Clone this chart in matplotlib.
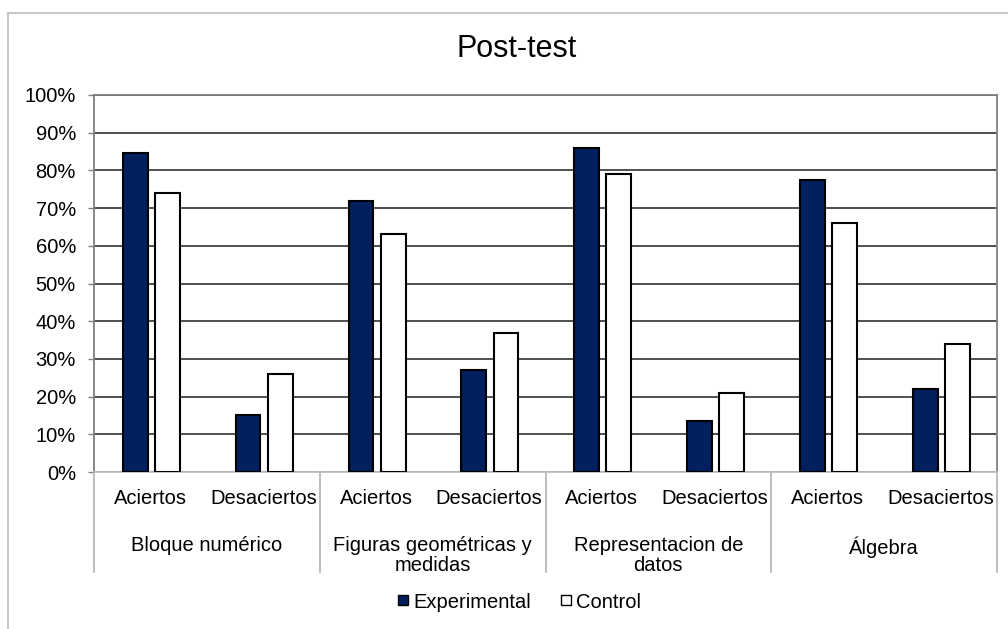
import matplotlib.pyplot as plt
from matplotlib.lines import Line2D
import matplotlib.transforms as mtransforms
import numpy as np

plt.rcParams['font.family'] = ['Liberation Sans', 'DejaVu Sans']

# data
subcats = ['Aciertos', 'Desaciertos'] * 4
groups = ['Bloque numérico', 'Figuras geométricas y\nmedidas',
          'Representacion de\ndatos', 'Álgebra']
experimental = [84.5, 15, 72, 27, 86, 13.5, 77.5, 22]
control = [74, 26, 63, 37, 79, 21, 66, 34]
yticks = np.arange(0, 101, 10)

navy = '#001f5f'

fig = plt.figure(figsize=(10.08, 6.29), dpi=100)
ax = fig.add_axes([94/1008, 1-472/629, (997-94)/1008, (472-95)/629])

x = np.arange(len(subcats))
ax.bar(x - 0.135, experimental, width=0.22, color=navy, edgecolor='black',
       linewidth=1.5, zorder=3, label='Experimental')
ax.bar(x + 0.15, control, width=0.22, color='white', edgecolor='black',
       linewidth=1.5, zorder=3, label='Control')

ax.set_xlim(-0.5, len(subcats) - 0.5)
ax.set_ylim(0, 100)
ax.set_yticks(yticks)
ax.set_yticklabels([f'{v}%' for v in yticks], fontsize=14.5)
ax.tick_params(axis='y', length=4, width=1, color='#808080', pad=9)
ax.set_xticks([])
ax.yaxis.grid(True, color='#202020', linewidth=1.1, zorder=0)
for side in ['left', 'top', 'right']:
    ax.spines[side].set_color('#808080')
    ax.spines[side].set_linewidth(1.3)
ax.spines['bottom'].set_color('#c0c0c0')
ax.spines['bottom'].set_linewidth(1.3)

# category labels (two levels)
trans = mtransforms.blended_transform_factory(ax.transData, ax.transAxes)
for i, lab in enumerate(subcats):
    ax.text(i, -26/377, lab, transform=trans, ha='center', va='center',
            fontsize=14.5)
for g, lab in enumerate(groups):
    ax.text(2*g + 0.5, -64/377, lab, transform=trans, ha='center', va='top',
            fontsize=14.5, linespacing=1.05)
for b in np.arange(-0.5, len(subcats), 2):
    ax.add_line(Line2D([b, b], [0, -100/377], transform=trans, color='#b8b8b8',
                       linewidth=1.3, clip_on=False))

fig.text(517/1008, 1-49/629, 'Post-test', ha='center', va='center', fontsize=22)

# legend
handles = [Line2D([], [], marker='s', linestyle='none', markersize=7,
                  markerfacecolor=navy, markeredgecolor='black', label='Experimental'),
           Line2D([], [], marker='s', linestyle='none', markersize=7,
                  markerfacecolor='white', markeredgecolor='black', label='Control')]
fig.legend(handles=handles, loc='center', bbox_to_anchor=(519/1008, 1-602/629),
           ncol=2, frameon=False, fontsize=14.5, handlelength=0.6,
           handletextpad=0.2, columnspacing=1.4)

# outer chart frame
fig.add_artist(Line2D([8/1008, 8/1008], [0, 1-13/629], transform=fig.transFigure,
                      color='#c8c8c8', linewidth=1.5))
fig.add_artist(Line2D([8/1008, 1], [1-13/629, 1-13/629], transform=fig.transFigure,
                      color='#c8c8c8', linewidth=1.5))

fig.savefig('out.png', dpi=100)
